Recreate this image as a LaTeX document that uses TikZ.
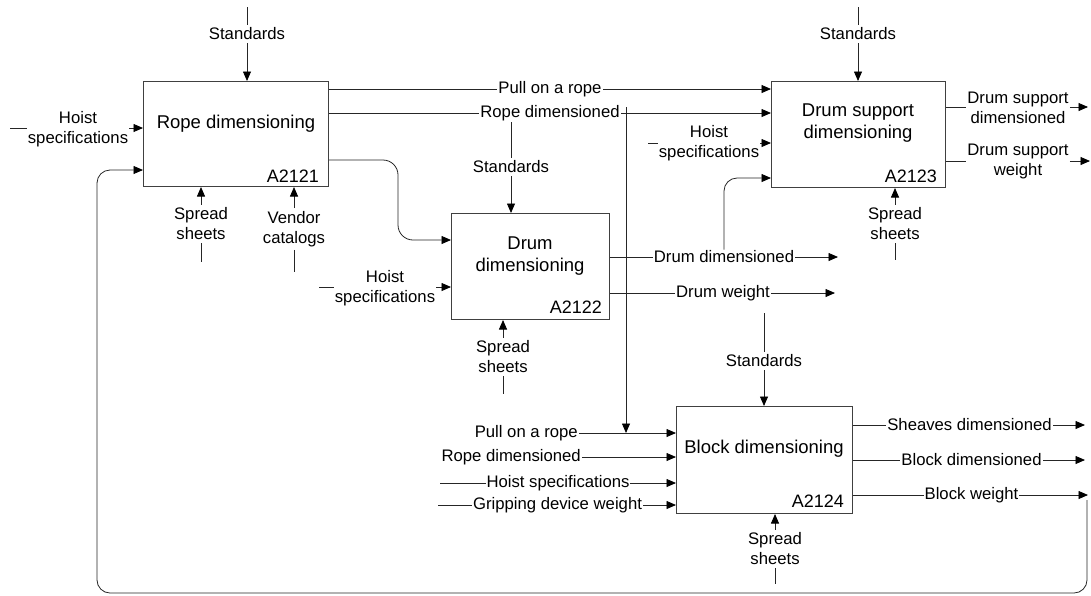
\documentclass[tikz,border=0pt]{standalone}
\usepackage{fontspec}
\setmainfont{Liberation Sans}
\usetikzlibrary{arrows.meta,calc}
\pgfdeclarelayer{bg}
\pgfsetlayers{bg,main}
\begin{document}
\begin{tikzpicture}[x=1pt,y=-1pt,
  line/.style={draw=black!85, line width=0.8pt},
  arr/.style={line, -{Triangle[length=9.5pt,width=8pt,color=black]}},
  soft/.style={draw=black!55, line width=0.8pt, rounded corners=13pt},
  box/.style={draw=black!75, line width=1pt, inner sep=0pt, anchor=north west},
  lab/.style={font=\fontsize{16.7}{20}\selectfont, align=center, inner sep=1pt},
  vlab/.style={lab, inner sep=3pt},
  onl/.style={lab, fill=white},
  ttl/.style={font=\fontsize{18.5}{22}\selectfont, align=center, inner sep=0pt},
  idn/.style={font=\fontsize{18}{20}\selectfont, inner sep=0pt, anchor=base east}]
\useasboundingbox (0,0) rectangle (1091,595);

% ---------- boxes ----------
\node[box, minimum width=185pt, minimum height=105pt] (r) at (143,81) {};
\node[box, minimum width=158pt, minimum height=106pt] (d) at (451,213) {};
\node[box, minimum width=174pt, minimum height=106pt] (s) at (771,81) {};
\node[box, minimum width=176pt, minimum height=107pt] (b) at (676,406) {};

\node[ttl] (rt) at (236,124) {Rope dimensioning};
\node[ttl] (dt) at (530,256) {Drum\\dimensioning};
\node[ttl] (st) at (858,123.5) {Drum support\\dimensioning};
\node[ttl] (bt) at (764,448.5) {Block dimensioning};

\node[idn] (rid) at (319,182) {A2121};
\node[idn] (did) at (602,313) {A2122};
\node[idn] (sid) at (937,182) {A2123};
\node[idn] (bid) at (844,507) {A2124};

% ---------- labels: rope ----------
\node[vlab] (rstd) at (247,34) {Standards};
\coordinate (rstd0) at (247,7);
\node[lab] (rhs) at (78,129) {Hoist\\specifications};
\coordinate (rhs0) at (10,128);
\node[vlab] (rss) at (201,224) {Spread\\sheets};
\coordinate (rss0) at (201,262);
\node[vlab] (rvc) at (294,229) {Vendor\\catalogs};
\coordinate (rvc0) at (294,272);
\node[onl] (lpr1) at (550,89) {Pull on a rope};
\node[onl] (lrd1) at (550,113) {Rope dimensioned};

% ---------- labels: drum ----------
\node[vlab] (dstd) at (511,167) {Standards};
\node[lab] (dhs) at (385,288) {Hoist\\specifications};
\coordinate (dhs0) at (319,287);
\node[vlab] (dss) at (503,357) {Spread\\sheets};
\coordinate (dss0) at (503,394);
\node[onl] (ldd) at (724,257) {Drum dimensioned};
\coordinate (ldd1) at (838,257);
\node[onl] (ldw) at (723,293) {Drum weight};
\coordinate (ldw1) at (835,293);

% ---------- labels: drum support ----------
\node[vlab] (sstd) at (858,34) {Standards};
\coordinate (sstd0) at (858,7);
\node[lab] (shs) at (709,143) {Hoist\\specifications};
\coordinate (shs0) at (648,143);
\node[vlab] (sss) at (895,224) {Spread\\sheets};
\coordinate (sss0) at (895,260);
\node[lab] (sdd) at (1018,108) {Drum support\\dimensioned};
\coordinate (sdd1) at (1088,107);
\node[lab] (sdw) at (1018,161.5) {Drum support\\weight};
\coordinate (sdw1) at (1090,161);

% ---------- labels: block ----------
\node[vlab] (bstd) at (764,361) {Standards};
\coordinate (bstd0) at (764,313);
\node[lab, anchor=east] (bpr) at (579,433) {Pull on a rope};
\node[lab, anchor=east] (brd) at (582,457) {Rope dimensioned};
\node[onl] (bhs) at (558,483) {Hoist specifications};
\coordinate (bhs0) at (440,483);
\node[onl] (bgd) at (557.5,505) {Gripping device weight};
\coordinate (bgd0) at (438,505);
\node[vlab] (bss) at (775,549) {Spread\\sheets};
\coordinate (bss0) at (775,584);
\node[onl] (bsd) at (969.5,425) {Sheaves dimensioned};
\coordinate (bsd1) at (1085,425);
\node[onl] (bbd) at (971.5,460) {Block dimensioned};
\coordinate (bbd1) at (1085,460);
\node[onl] (bbw) at (971.5,495) {Block weight};
\coordinate (bbw1) at (1088,495);
\coordinate (rdx) at (626,107);

% ---------- connectors ----------
\begin{pgfonlayer}{bg}
\fill[white] (0,0) rectangle (1091,595);
% rope
\draw[line] (rstd0) -- (rstd.north);
\draw[arr] (rstd.south) -- (rstd.south |- r.north);
\draw[line] (rhs0) -- (rhs.west |- rhs0);
\draw[arr] (rhs.east |- rhs0) -- (r.west |- rhs0);
\draw[arr] (rss.north) -- (rss.north |- r.south);
\draw[line] (rss.south) -- (rss0);
\draw[arr] (rvc.north) -- (rvc.north |- r.south);
\draw[line] (rvc.south) -- (rvc0);
\draw[arr] (r.east |- lpr1) -- (s.west |- lpr1);
\draw[arr] (r.east |- lrd1) -- (s.west |- lrd1);
\draw[arr] (rdx) -- (rdx |- bpr);
\draw[soft, arr, rounded corners=15pt] (r.east |- 0,160) -- (398,160) -- (398,240) -- (d.west |- 0,240);
% drum
\draw[line] (dstd |- lrd1.south) -- (dstd.north);
\draw[arr] (dstd.south) -- (dstd.south |- d.north);
\draw[line] (dhs0) -- (dhs.west |- dhs0);
\draw[arr] (dhs.east |- dhs0) -- (d.west |- dhs0);
\draw[arr] (dss.north) -- (dss.north |- d.south);
\draw[line] (dss.south) -- (dss0);
\draw[arr] (d.east |- ldd) -- (ldd1);
\draw[arr] (d.east |- ldw) -- (ldw1);
\draw[soft, arr] (ldd.north) -- (724,178) -- (s.west |- 0,178);
% drum support
\draw[line] (sstd0) -- (sstd.north);
\draw[arr] (sstd.south) -- (sstd.south |- s.north);
\draw[line] (shs0) -- (shs.west |- shs0);
\draw[arr] (shs.east |- shs0) -- (s.west |- shs0);
\draw[arr] (sss.north) -- (sss.north |- s.south);
\draw[line] (sss.south) -- (sss0);
\draw[line] (s.east |- sdd1) -- (sdd.west |- sdd1);
\draw[arr] (sdd.east |- sdd1) -- (sdd1);
\draw[line] (s.east |- sdw1) -- (sdw.west |- sdw1);
\draw[arr] (sdw.east |- sdw1) -- (sdw1);
% block
\draw[line] (bstd0) -- (bstd.north);
\draw[arr] (bstd.south) -- (bstd.south |- b.north);
\draw[arr] (bpr.east) -- (b.west |- bpr.east);
\draw[arr] (brd.east) -- (b.west |- brd.east);
\draw[arr] (bhs0) -- (b.west |- bhs0);
\draw[arr] (bgd0) -- (b.west |- bgd0);
\draw[arr] (bss.north) -- (bss.north |- b.south);
\draw[line] (bss.south) -- (bss0);
\draw[arr] (b.east |- bsd) -- (bsd1);
\draw[arr] (b.east |- bbd) -- (bbd1);
\draw[arr] (b.east |- bbw) -- (bbw1);
% feedback loop
\draw[soft, arr] (1087,500) -- (1087,593) -- (97,593) -- (97,170) -- (r.west |- 0,170);
\end{pgfonlayer}
\end{tikzpicture}
\end{document}
